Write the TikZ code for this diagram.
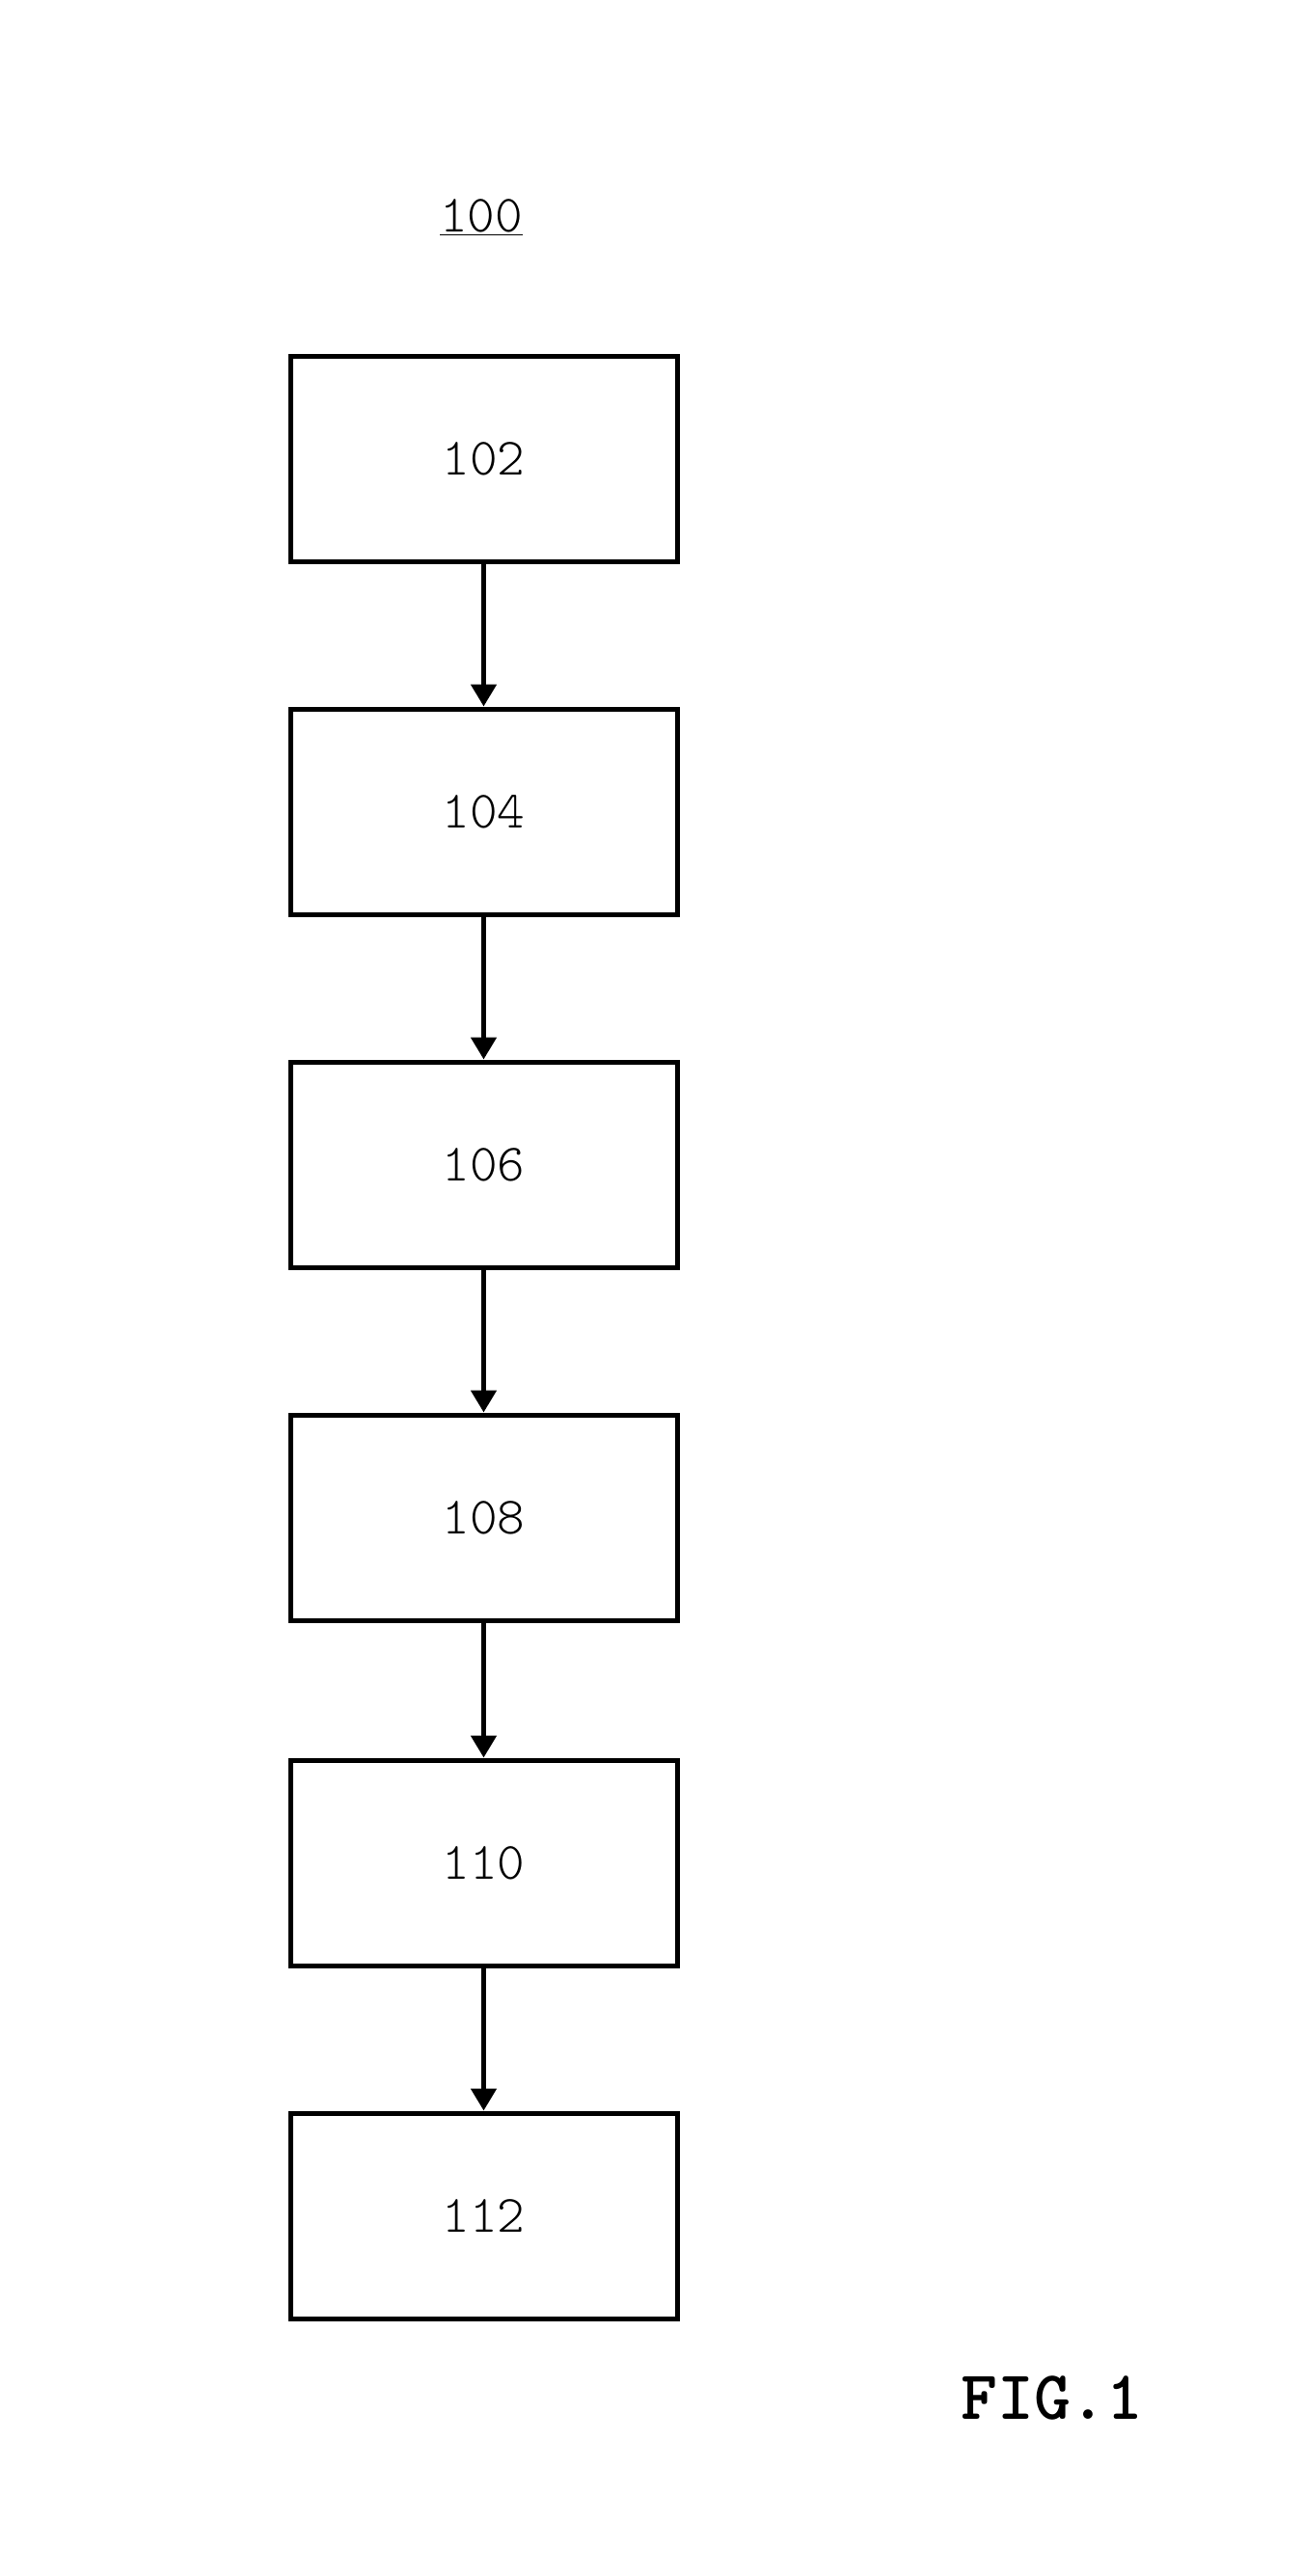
\documentclass[tikz,border=0pt]{standalone}
\usepackage{tikz}
\usetikzlibrary{positioning, arrows.meta}

\begin{document}
\begin{tikzpicture}[
	node distance=2.96cm,
	% --- Styles ---
	stepblock/.style={
		rectangle, draw, line width=0.1cm, fill=white,
		minimum width=8.02cm, minimum height=4.26cm, inner sep=0pt,
		align=center, font=\ttfamily\fontseries{l}\fontsize{31}{36}\selectfont
	},
	line/.style={
		draw, line width=0.1cm, -{Triangle[width=0.52cm, length=0.46cm]}
	},
	reflabel/.style={
		anchor=base, inner sep=0pt, font=\ttfamily\fontseries{l}\fontsize{31}{36}\selectfont
	},
	figlabel/.style={
		inner sep=0pt, font=\ttfamily\bfseries\fontsize{41}{46}\selectfont
	}
	]
	
	% --- Page frame ---
	\useasboundingbox (0,0) rectangle (27.02,-53.42);
	
	% --- 1. Reference number of the method ---
	\node [reflabel] (ref100) at (9.98,-4.8) {\underline{100}};
	
	% --- 2. Method steps (one column) ---
	\node [stepblock] (s102) at (10.03,-9.51) {102};
	\node [stepblock, below=of s102] (s104) {104};
	\node [stepblock, below=of s104] (s106) {106};
	\node [stepblock, below=of s106] (s108) {108};
	% gap here is a bit shorter
	\node [stepblock, below=2.8cm of s108] (s110) {110};
	\node [stepblock, below=of s110] (s112) {112};
	
	% --- 3. Connections between steps ---
	\foreach \from/\to in {102/104, 104/106, 106/108, 108/110, 110/112}
		\draw [line] (s\from) -- (s\to);
	
	% --- 4. Figure caption ---
	\node [figlabel] (fig) at (21.82,-49.72) {FIG.1};
	
\end{tikzpicture}
\end{document}
